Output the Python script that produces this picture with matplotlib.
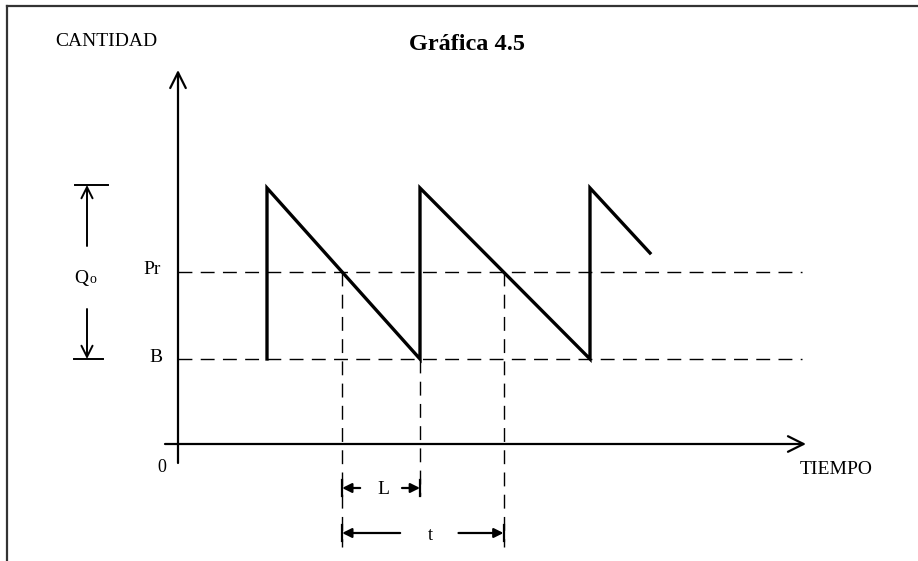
import numpy as np
import matplotlib
matplotlib.use("Agg")
import matplotlib.pyplot as plt

plt.rcParams['font.family'] = ['Liberation Serif', 'DejaVu Serif']

# diagram units: time from the origin, quantity above the time axis
t_stock = [89, 89, 242, 242, 412, 412, 472]
q_stock = [85, 256, 85, 256, 85, 256, 191]
nivel_B = 85
nivel_Pr = 172
nivel_Q0 = 259
t_fin = 624

# Pr crossing on the first two declines
t_pedido1 = np.interp(nivel_Pr, [85, 256], [242, 89])
t_pedido2 = np.interp(nivel_Pr, [85, 256], [412, 242])
t_llega = 242

fig = plt.figure(figsize=(9.18, 5.61), dpi=100)
ax = fig.add_axes([0, 0, 1, 1])
ax.set_xlim(-178, 740)
ax.set_ylim(-117, 444)
ax.axis('off')

# frame of the scanned page
ax.plot([7/918, 7/918], [0, 1 - 6/561], color='#333333', lw=1.6, transform=ax.transAxes)
ax.plot([7/918, 1], [1 - 6/561, 1 - 6/561], color='#333333', lw=1.6, transform=ax.transAxes)

# axes with open arrows
ax.annotate('', xy=(0, 374), xytext=(0, -19),
            arrowprops=dict(arrowstyle='->', lw=1.6, color='black',
                            mutation_scale=28, shrinkA=0, shrinkB=0))
ax.annotate('', xy=(628, 0), xytext=(-13, 0),
            arrowprops=dict(arrowstyle='->', lw=1.6, color='black',
                            mutation_scale=28, shrinkA=0, shrinkB=0))

# reference levels
ax.plot([0, t_fin], [nivel_Pr, nivel_Pr], color='black', lw=1.0, dashes=(10, 6))
ax.plot([0, t_fin], [nivel_B, nivel_B], color='black', lw=1.0, dashes=(10, 6))

# stock sawtooth
ax.plot(t_stock, q_stock, color='black', lw=2.4, solid_joinstyle='miter')

# vertical guides
ax.plot([t_pedido1, t_pedido1], [nivel_Pr, -103], color='black', lw=1.0, dashes=(10, 6))
ax.plot([t_llega, t_llega], [nivel_B, -52], color='black', lw=1.0, dashes=(10, 6))
ax.plot([t_pedido2, t_pedido2], [nivel_Pr, -103], color='black', lw=1.0, dashes=(10, 6))

# L and t dimensions
ap = dict(arrowstyle='-|>', lw=1.6, color='black', mutation_scale=14,
          shrinkA=0, shrinkB=0)
y_L = -44
ax.annotate('', xy=(t_pedido1, y_L), xytext=(t_pedido1 + 18, y_L), arrowprops=ap)
ax.annotate('', xy=(t_llega, y_L), xytext=(t_llega - 18, y_L), arrowprops=ap)
ax.text((t_pedido1 + t_llega) / 2 + 2, y_L - 2, 'L', ha='center', va='center', fontsize=14)
y_t = -89
ax.annotate('', xy=(t_pedido1, y_t), xytext=(t_pedido1 + 58, y_t), arrowprops=ap)
ax.annotate('', xy=(t_pedido2, y_t), xytext=(t_pedido2 - 45, y_t), arrowprops=ap)
ax.text(252, y_t - 2, 't', ha='center', va='center', fontsize=13)
ax.plot([t_pedido1, t_pedido1], [y_L - 8, y_L + 8], color='black', lw=1.6)
ax.plot([t_llega, t_llega], [y_L - 8, y_L + 8], color='black', lw=1.6)
ax.plot([t_pedido1, t_pedido1], [y_t - 8, y_t + 8], color='black', lw=1.6)
ax.plot([t_pedido2, t_pedido2], [y_t - 8, y_t + 8], color='black', lw=1.6)

# Qo dimension at the left
x_q = -91
ax.plot([-103, -70], [nivel_Q0, nivel_Q0], color='black', lw=1.4)
ax.plot([-104, -75], [nivel_B, nivel_B], color='black', lw=1.4)
ax.annotate('', xy=(x_q, nivel_Q0), xytext=(x_q, 198),
            arrowprops=dict(arrowstyle='->', lw=1.4, color='black',
                            mutation_scale=20, shrinkA=0, shrinkB=0))
ax.annotate('', xy=(x_q, nivel_B), xytext=(x_q, 135),
            arrowprops=dict(arrowstyle='->', lw=1.4, color='black',
                            mutation_scale=20, shrinkA=0, shrinkB=0))
ax.text(x_q + 1, 161, 'Q', ha='right', va='baseline', fontsize=14)
ax.text(x_q + 2, 161, 'o', ha='left', va='baseline', fontsize=10)

# labels
ax.text(-17, nivel_Pr + 2, 'Pr', ha='right', va='center', fontsize=14)
ax.text(-15, nivel_B + 2, 'B', ha='right', va='center', fontsize=14)
ax.text(-16, -24, '0', ha='center', va='center', fontsize=13)
ax.text(-72, 402, 'CANTIDAD', ha='center', va='center', fontsize=14)
ax.text(289, 399, 'Gráfica 4.5', ha='center', va='center', fontsize=17.5, fontweight='bold')
ax.text(658, -25, 'TIEMPO', ha='center', va='center', fontsize=14)

fig.savefig('out.png', dpi=100)
